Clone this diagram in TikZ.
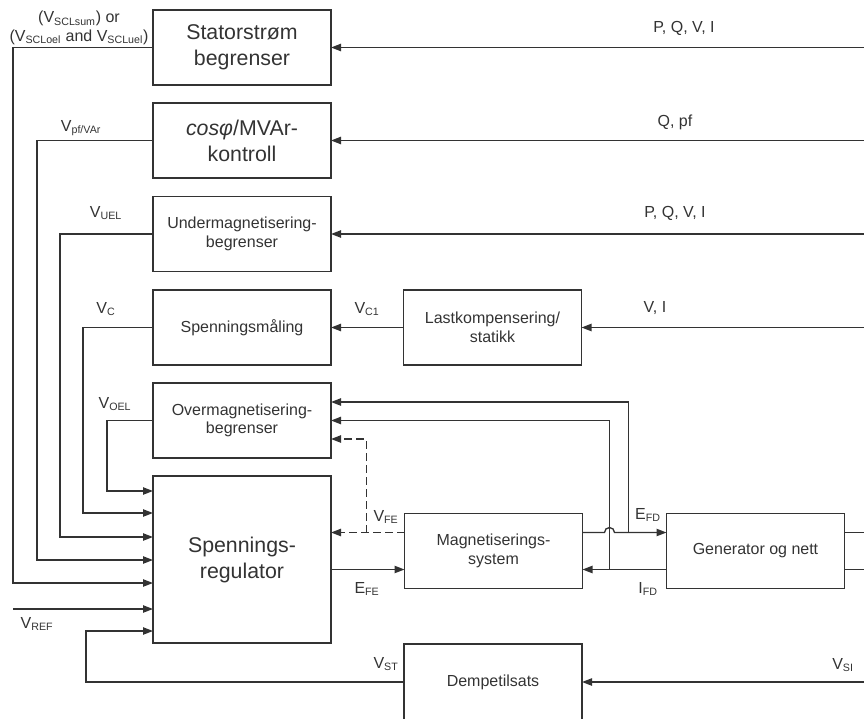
\documentclass[tikz,border=0pt]{standalone}
\usepackage{fontspec}
\setmainfont{Liberation Sans}
\usetikzlibrary{arrows.meta, calc}
\colorlet{ink}{black!80}
\newcommand{\sig}[2]{#1\textsubscript{#2}}

\begin{document}
\begin{tikzpicture}[
    x=0.75pt, y=-0.75pt,
    block/.style={rectangle, draw=ink, line width=1pt, minimum width=133.5pt, minimum height=56.25pt, align=center, text=ink, font=\fontsize{12}{14}\selectfont, outer sep=0pt},
    bigblock/.style={block, font=\fontsize{16}{19.5}\selectfont},
    signal/.style={text=ink, font=\fontsize{12}{15}\selectfont, align=center, inner sep=1pt},
    wire/.style={draw=ink, line width=1pt},
    arrow/.style={wire, -{Triangle[length=7.5pt, width=5.5pt]}},
    dasharrow/.style={arrow, dash pattern=on 6pt off 3pt}
]
\useasboundingbox (0,0) rectangle (864,718);

% Define the blocks of the left column
\node[bigblock] (scl) at (242,47.5) {Statorstrøm\\begrenser};
\node[bigblock] (pfvar) at (242,140.5) {\textit{cosφ}/MVAr-\\kontroll};
\node[block] (uel) at (242,234) {Undermagnetisering-\\begrenser};
\node[block] (vmeas) at (242,327.5) {Spenningsmåling};
\node[block] (oel) at (242,420.5) {Overmagnetisering-\\begrenser};
\node[bigblock, minimum height=125.25pt] (avr) at (242,559.5) {Spennings-\\regulator};

% Define the remaining blocks
\node[block] (lcomp) at (492.5,327.5) {Lastkompensering/\\statikk};
\node[block] (exc) at (493.5,551) {Magnetiserings-\\system};
\node[block] (gen) at (755.5,551) {Generator og nett};
\node[block, minimum height=57pt] (pss) at (493,682) {Dempetilsats};

% Ports on the blocks
\foreach \y [count=\i] in {491,513,537,560,583,609,631}
    \coordinate (in\i) at (avr.west |- 0,\y);
\coordinate (oel1) at ($(oel.east)+(0,-18.5)$);
\coordinate (oel2) at (oel.east);
\coordinate (oel3) at ($(oel.east)+(0,18.5)$);
\coordinate (exc-up-w) at ($(exc.west)+(0,-18.5)$);
\coordinate (exc-dn-w) at ($(exc.west)+(0,18.5)$);
\coordinate (exc-up-e) at ($(exc.east)+(0,-18.5)$);
\coordinate (exc-dn-e) at ($(exc.east)+(0,18.5)$);
\coordinate (vfe-j) at ($(exc-up-w)+(-38,0)$);
\coordinate (efd-j) at ($(exc-up-e)+(46,0)$);
\coordinate (ifd-j) at ($(exc-dn-e)+(27,0)$);
\coordinate (vref) at (13,609);

% Limiter and controller signals into the regulator
\draw[arrow] (scl.west) -- ++(-140,0) |- (in5);
\draw[arrow] (pfvar.west) -- ++(-116,0) |- (in4);
\draw[arrow] (uel.west) -- ++(-93,0) |- (in3);
\draw[arrow] (vmeas.west) -- ++(-70,0) |- (in2);
\draw[arrow] (oel.west) -- ++(-46,0) |- (in1);
\draw[arrow] (vref) -- (in6);
\draw[arrow] (pss.west) -- ++(-318,0) |- (in7);

% Measurements coming in from the right
\draw[arrow] (scl.east -| 864,0) -- (scl.east);
\draw[arrow] (pfvar.east -| 864,0) -- (pfvar.east);
\draw[arrow] (uel.east -| 864,0) -- (uel.east);
\draw[arrow] (lcomp.east -| 864,0) -- (lcomp.east);
\draw[arrow] (lcomp.west) -- (vmeas.east);
\draw[arrow] (pss.east -| 864,0) -- (pss.east);

% Regulator, exciter and generator loop
\draw[arrow] (avr.east |- exc-dn-w) -- (exc-dn-w);
\draw[dasharrow] (exc-up-w) -- (avr.east |- exc-up-w);
\draw[dasharrow] (vfe-j) |- (oel3);
\draw[arrow] (exc-up-e) -- ($(ifd-j |- exc-up-e)+(-5,0)$)
    arc[start angle=180, end angle=0, radius=3.75pt] -- (gen.west |- exc-up-e);
\draw[arrow] (gen.west |- exc-dn-e) -- (exc-dn-e);
\draw[arrow] (efd-j) |- (oel1);
\draw[arrow] (ifd-j) |- (oel2);
\draw[wire] ($(gen.east)+(0,-18.5)$) -- ++(19,0);
\draw[wire] ($(gen.east)+(0,18.5)$) -- ++(19,0);

% Signal labels
\node[signal] (l-scl) at (79,28) {(\sig{V}{SCLsum}) or\\[-1pt](\sig{V}{SCLoel} and \sig{V}{SCLuel})};
\node[signal] (l-pf) at (81,128) {\sig{V}{pf/VAr}};
\node[signal] (l-uel) at (106,213) {\sig{V}{UEL}};
\node[signal] (l-c) at (106,309) {\sig{V}{C}};
\node[signal] (l-oel) at (115,404) {\sig{V}{OEL}};
\node[signal] (l-c1) at (367,309) {\sig{V}{C1}};
\node[signal] (l-vfe) at (386,517) {\sig{V}{FE}};
\node[signal] (l-efe) at (367,589) {\sig{E}{FE}};
\node[signal] (l-efd) at (648,515) {\sig{E}{FD}};
\node[signal] (l-ifd) at (648,589) {\sig{I}{FD}};
\node[signal] (l-ref) at (37,624) {\sig{V}{REF}};
\node[signal] (l-st) at (386,664) {\sig{V}{ST}};
\node[signal] (l-si) at (843,665) {\sig{V}{SI}};
\node[signal] (l-in1) at (684,28) {P, Q, V, I};
\node[signal] (l-in2) at (675,122) {Q, pf};
\node[signal] (l-in3) at (675,213) {P, Q, V, I};
\node[signal] (l-in4) at (655,308) {V, I};

\end{tikzpicture}
\end{document}
